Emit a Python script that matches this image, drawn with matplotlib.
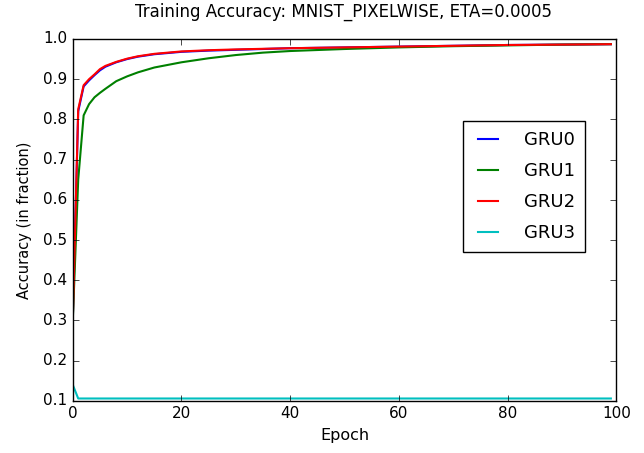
import matplotlib
matplotlib.use("Agg")
import matplotlib.pyplot as plt

epochs_fast = [0, 1, 2, 3, 4, 5, 6, 8, 10, 12, 15, 20, 25, 30, 40, 50, 60, 70, 80, 90, 99]
gru0 = [0.30, 0.820, 0.882, 0.897, 0.910, 0.922, 0.931, 0.942, 0.950, 0.956, 0.962,
        0.968, 0.971, 0.973, 0.977, 0.979, 0.981, 0.983, 0.985, 0.986, 0.987]
gru2 = [0.30, 0.825, 0.885, 0.900, 0.912, 0.925, 0.933, 0.943, 0.951, 0.957, 0.963,
        0.969, 0.972, 0.974, 0.977, 0.979, 0.981, 0.983, 0.985, 0.986, 0.987]

epochs_slow = [0, 1, 2, 3, 4, 5, 6, 8, 10, 12, 15, 20, 25, 30, 35, 40, 50, 60, 70, 80, 90, 99]
gru1 = [0.30, 0.65, 0.81, 0.838, 0.855, 0.866, 0.876, 0.895, 0.907, 0.917, 0.929,
        0.942, 0.952, 0.960, 0.966, 0.970, 0.975, 0.979, 0.982, 0.984, 0.986, 0.987]

epochs_flat = [0, 1, 99]
gru3 = [0.14, 0.106, 0.106]

plt.style.use("classic")
fig = plt.figure(figsize=(6.44, 4.53), dpi=100, facecolor="white")
ax = fig.add_axes([0.113, 0.115, 0.844, 0.799])

ax.plot(epochs_fast, gru0, color="b", lw=1.5, label="GRU0")
ax.plot(epochs_slow, gru1, color="g", lw=1.5, label="GRU1")
ax.plot(epochs_fast, gru2, color="r", lw=1.5, label="GRU2")
ax.plot(epochs_flat, gru3, color="c", lw=1.5, label="GRU3")

ax.set_xlim(0, 100)
ax.set_ylim(0.1, 1.0)
ax.tick_params(labelsize=11)
ax.set_xlabel("Epoch", fontsize=11.5)
ax.set_ylabel("Accuracy (in fraction)", fontsize=10.5, labelpad=8)
fig.text(0.534, 0.9625, "Training Accuracy: MNIST_PIXELWISE, ETA=0.0005",
         fontsize=12, ha="center", va="baseline")
ax.legend(loc="upper left", bbox_to_anchor=(0.719, 0.733), bbox_transform=fig.transFigure,
          borderaxespad=0, fontsize=13, handlelength=1.66, handletextpad=1.16,
          borderpad=0.55, labelspacing=0.72)

fig.savefig("out.png", dpi=100, facecolor="white")
